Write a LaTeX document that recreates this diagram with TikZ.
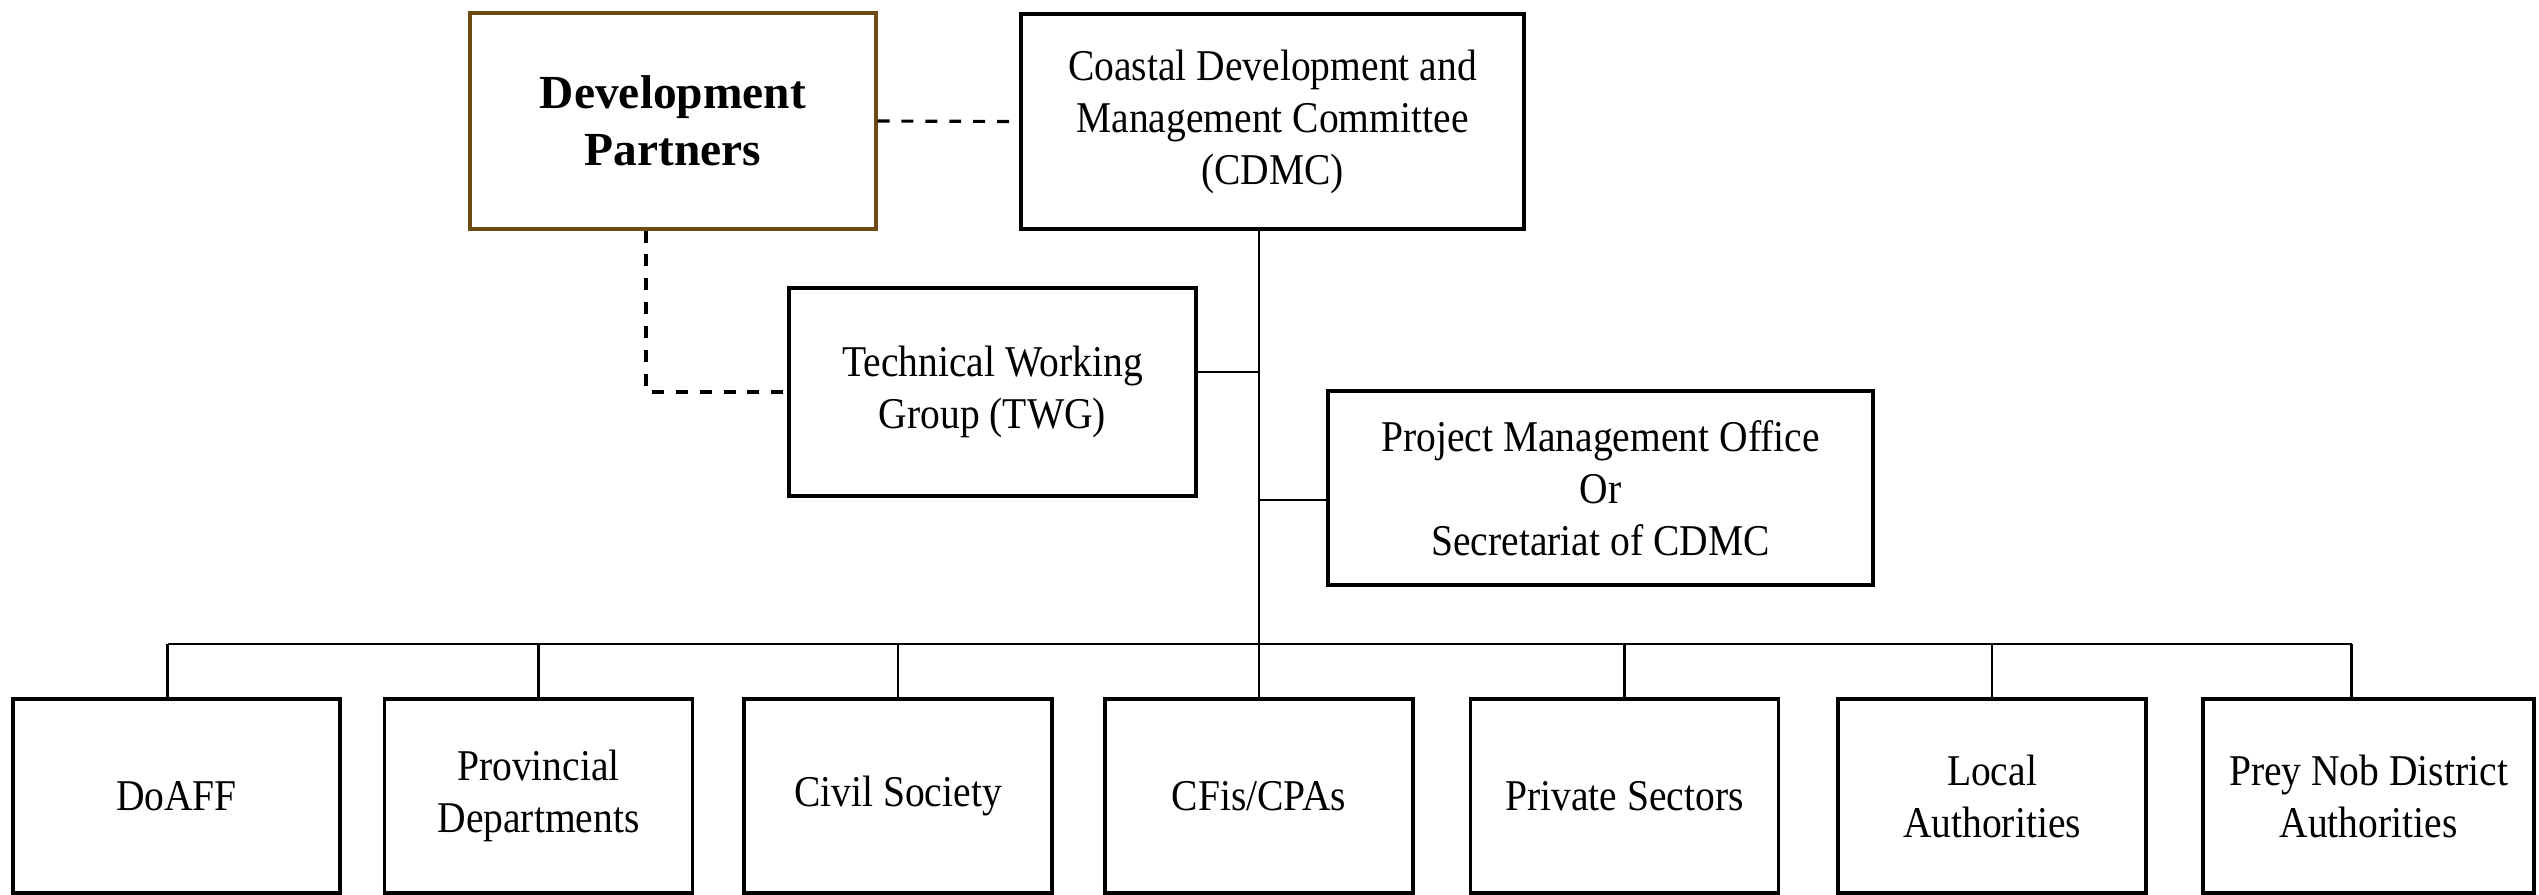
\documentclass[tikz,border=0pt]{standalone}
\usepackage{fontspec}
\setmainfont{Liberation Serif}
\newfontfamily\narrowserif{Liberation Serif}[FakeStretch=0.9]
\usetikzlibrary{positioning}
\definecolor{partnerbrown}{RGB}{110,75,20}
\tikzset{
  box/.style={draw, rectangle, line width=0.9pt, align=center, font={\narrowserif\fontsize{12.5}{14.8}\selectfont}},
  unit/.style={box, minimum width=3.08cm, minimum height=1.94cm},
  link/.style={line width=0.8pt},
  partnerlink/.style={line width=0.9pt, dash pattern=on 3.4pt off 3.4pt},
}

\begin{document}
\begin{tikzpicture}
  \useasboundingbox (0,0) rectangle (25.39,-8.94);
  % Development partners (brown frame)
  \node[box, draw=partnerbrown, minimum width=4.06cm, minimum height=2.16cm, font={\rmfamily\fontsize{13.5}{16.2}\selectfont\bfseries}] (dp) at (6.73,-1.21) {Development\\Partners};
  % Committee
  \node[box, minimum width=5.03cm, minimum height=2.15cm] (cdmc) at (12.725,-1.215) {Coastal Development and\\Management Committee\\(CDMC)};
  % Working group and office
  \node[box, minimum width=4.07cm, minimum height=2.08cm] (twg) at (9.925,-3.92) {Technical Working\\Group (TWG)};
  \node[box, minimum width=5.45cm, minimum height=1.94cm] (pmo) at (16.005,-4.88) {Project Management Office\\Or\\Secretariat of CDMC};

  % Bottom row
  \node[unit, minimum width=3.27cm] (doaff) at (1.765,-7.96) {DoAFF};
  \node[unit] (prov) at (5.385,-7.96) {Provincial\\Departments};
  \node[unit] (civil) at (8.98,-7.96) {Civil Society};
  \node[unit] (cfis) at (12.59,-7.96) {CFis/CPAs};
  \node[unit] (private) at (16.245,-7.96) {Private Sectors};
  \node[unit] (local) at (19.92,-7.96) {Local\\Authorities};
  \node[unit, minimum width=3.31cm] (prey) at (23.685,-7.96) {Prey Nob District\\Authorities};

  % Trunk and side branches
  \coordinate (bus) at (12.59,-6.44);
  \draw[link] (cdmc.south -| cfis.north) -- (cfis.north);
  \draw[link] ([yshift=2mm]twg.east) -- ([yshift=2mm]twg.east -| cfis.north);
  \draw[link] ([yshift=-1.2mm]pmo.west) -- ([yshift=-1.2mm]pmo.west -| cfis.north);

  % Bus to the bottom row
  \draw[link] ([xshift=-0.9mm]doaff.north |- bus) -- ([xshift=-1.7mm]prey.north |- bus);
  \draw[link] ([xshift=-0.9mm]doaff.north |- bus) -- ([xshift=-0.9mm]doaff.north);
  \draw[link] (prov.north |- bus) -- (prov.north);
  \draw[link] (civil.north |- bus) -- (civil.north);
  \draw[link] (private.north |- bus) -- (private.north);
  \draw[link] (local.north |- bus) -- (local.north);
  \draw[link] ([xshift=-1.7mm]prey.north |- bus) -- ([xshift=-1.7mm]prey.north);

  % Partner links
  \draw[partnerlink] (dp.east) -- (cdmc.west);
  \draw[partnerlink] ([xshift=-2.7mm]dp.south) |- (twg.west);
\end{tikzpicture}
\end{document}
